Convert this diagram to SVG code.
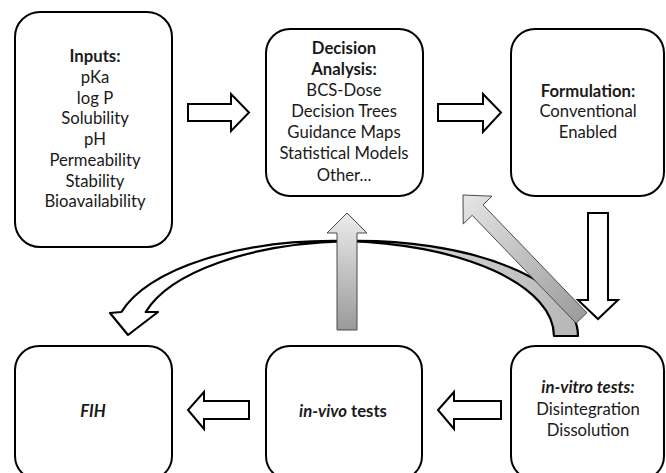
<svg xmlns="http://www.w3.org/2000/svg" width="666" height="473" viewBox="0 0 666 473">
<style>
.box{fill:#fff;stroke:#000;stroke-width:2}
.t{font-family:Lato,"Liberation Sans",sans-serif;font-size:16.7px;fill:#1a1a1a;text-anchor:middle}
.b{font-weight:bold}
.i{font-style:italic}
.wa{fill:#fff;stroke:#000;stroke-width:2;stroke-linejoin:miter}
.ga{stroke:#4a4a4a;stroke-width:1}
.arc{stroke:#000;stroke-width:2.2;stroke-linejoin:round}
</style>
<defs>
<linearGradient id="gv" x1="0" y1="0" x2="0" y2="1">
<stop offset="0" stop-color="#ececec"/><stop offset="1" stop-color="#9a9a9a"/>
</linearGradient>
<linearGradient id="gd" gradientUnits="userSpaceOnUse" x1="463" y1="195" x2="581" y2="318">
<stop offset="0" stop-color="#e6e6e6"/><stop offset="1" stop-color="#9c9c9c"/>
</linearGradient>
<linearGradient id="gs" gradientUnits="userSpaceOnUse" x1="346" y1="241" x2="566" y2="336">
<stop offset="0" stop-color="#e0e0e0"/><stop offset="1" stop-color="#b8b8b8"/>
</linearGradient>
</defs>
<rect width="666" height="473" fill="#fff"/>

<g id="inputs">
<rect class="box" x="15" y="12" width="157" height="235" rx="25"/>
<text class="t"><tspan class="b" x="95" y="62">Inputs:</tspan><tspan x="95" y="83">pKa</tspan><tspan x="95" y="104">log P</tspan><tspan x="95" y="124">Solubility</tspan><tspan x="95" y="145">pH</tspan><tspan x="95" y="166">Permeability</tspan><tspan x="95" y="187">Stability</tspan><tspan x="95" y="207">Bioavailability</tspan></text>
</g>
<g id="decision">
<rect class="box" x="266" y="29" width="157" height="167" rx="24"/>
<text class="t"><tspan class="b" x="344" y="54">Decision</tspan><tspan class="b" x="344" y="75">Analysis:</tspan><tspan x="344" y="96">BCS-Dose</tspan><tspan x="344" y="117">Decision Trees</tspan><tspan x="344" y="138">Guidance Maps</tspan><tspan x="344" y="159">Statistical Models</tspan><tspan x="344" y="181">Other...</tspan></text>
</g>
<g id="formulation">
<rect class="box" x="511" y="29" width="153" height="167" rx="24"/>
<text class="t"><tspan class="b" x="588" y="97">Formulation:</tspan><tspan x="588" y="117">Conventional</tspan><tspan x="588" y="138">Enabled</tspan></text>
</g>
<g id="fih">
<rect class="box" x="15" y="346" width="157" height="134" rx="24"/>
<text class="t b i" x="93" y="417">FIH</text>
</g>
<g id="invivo">
<rect class="box" x="266" y="346" width="156" height="134" rx="24"/>
<text class="t b" x="343" y="417"><tspan class="i">in-vivo</tspan> tests</text>
</g>
<g id="invitro">
<rect class="box" x="511" y="346" width="153" height="134" rx="24"/>
<text class="t"><tspan class="b i" x="588" y="393">in-vitro tests:</tspan><tspan x="588" y="415">Disintegration</tspan><tspan x="588" y="436">Dissolution</tspan></text>
</g>

<g id="connectors">
<path class="wa" d="M188,104 H231 V94 L249,112.5 L231,131 V121 H188 Z"/>
<path class="wa" d="M438,104 H483 V94 L501,112.5 L483,132 V121 H438 Z"/>
<path class="wa" d="M249,401 H204 V392 L188,410 L204,429 V419 H249 Z"/>
<path class="wa" d="M501,401 H454 V392 L438,410 L454,429 V419 H501 Z"/>
<path class="arc" fill="#fff" d="M121.4,312 A219.7,95 0 0 1 346,241.1 A219.7,95 0 0 0 145.7,312 L158,312 L128,335 L110,313 Z"/>
<path class="arc" fill="url(#gs)" d="M346,241.1 A219.7,95 0 0 1 578,336 L554,336 A219.7,95 0 0 0 346,241.1 Z"/>
<path class="wa" d="M588,213 H608 V300 H618 L598,319 L578,300 H588 Z"/>
<path class="ga" fill="url(#gv)" d="M347,213 L367,233 H357 V330 H337 V233 H327 Z"/>
<path class="ga" fill="url(#gd)" d="M463,195 L492,196.2 L483,204.9 L586.9,312.8 L576.1,323.2 L472.2,215.3 L463.2,224 Z"/>
</g>
</svg>
